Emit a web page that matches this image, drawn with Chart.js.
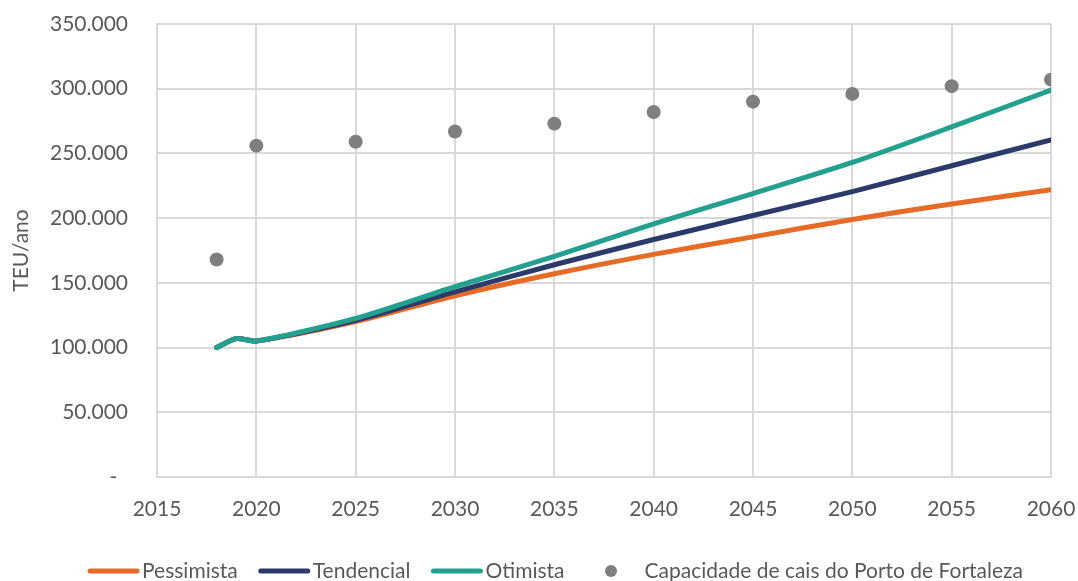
<!DOCTYPE html>
<html lang="pt-BR">
<head>
<meta charset="utf-8">
<title>Projeção de demanda - TEU/ano</title>
<script src="https://cdn.jsdelivr.net/npm/chart.js@4/dist/chart.umd.min.js"></script>
<style>
  html, body { margin: 0; padding: 0; background: #ffffff; }
  #caixa { width: 1078px; height: 581px; position: relative; }
</style>
</head>
<body>
<div id="caixa"><canvas id="graficoDemanda"></canvas></div>
<script>
// anos das projeções e valores em TEU/ano
const anos = [2018, 2019, 2020, 2025, 2030, 2035, 2040, 2045, 2050, 2055, 2060];
const pessimista = [100000, 107000, 105000, 120000, 140000, 157000, 172000, 185500, 199000, 211000, 222000];
const tendencial = [100000, 107000, 105000, 121000, 143000, 164000, 183500, 202000, 220500, 240500, 260500];
const otimista = [100000, 107000, 105000, 122500, 147000, 170500, 195500, 219000, 243000, 270500, 299000];

// capacidade de cais
const anosCapacidade = [2018, 2020, 2025, 2030, 2035, 2040, 2045, 2050, 2055, 2060];
const capacidade = [168000, 256000, 259000, 267000, 273000, 282000, 290000, 296000, 302000, 307000];

const eixoX = { min: 2015, max: 2060, passo: 5 };
const eixoY = { min: 0, max: 350000, passo: 50000 };

const corTexto = "#595959";
const corGrade = "#d9d9d9";
const fonte = "Lato";
const tamanhoFonte = 21;

const pontos = (xs, ys) => xs.map((x, i) => ({ x: x, y: ys[i] }));

// legenda desenhada embaixo do gráfico (traço + texto colados)
const legendaRodape = {
  id: "legendaRodape",
  afterDraw(chart) {
    const ctx = chart.ctx;
    const itens = chart.data.datasets;
    const amostra = 53;
    const espaco = 20;
    const yLeg = 571;

    ctx.save();
    ctx.font = tamanhoFonte + "px " + fonte;
    ctx.textBaseline = "middle";

    const larguras = itens.map(ds =>
      amostra + (ds.type === "scatter" ? 7 : 2) + ctx.measureText(ds.label).width
    );
    const total = larguras.reduce((a, b) => a + b, 0) + espaco * (itens.length - 1);
    let x = 555 - total / 2;

    itens.forEach((ds, i) => {
      if (ds.type === "scatter") {
        ctx.fillStyle = ds.backgroundColor;
        ctx.beginPath();
        ctx.arc(x + amostra / 2, yLeg, 6, 0, Math.PI * 2);
        ctx.fill();
        ctx.fillStyle = corTexto;
        ctx.fillText(ds.label, x + amostra + 7, yLeg);
      } else {
        ctx.strokeStyle = ds.borderColor;
        ctx.lineWidth = 5;
        ctx.lineCap = "round";
        ctx.beginPath();
        ctx.moveTo(x + 3, yLeg);
        ctx.lineTo(x + amostra - 3, yLeg);
        ctx.stroke();
        ctx.fillStyle = corTexto;
        ctx.fillText(ds.label, x + amostra + 2, yLeg);
      }
      x += larguras[i] + espaco;
    });
    ctx.restore();
  }
};

const linha = (rotulo, valores, cor, ordem) => ({
  type: "line",
  label: rotulo,
  data: pontos(anos, valores),
  borderColor: cor,
  backgroundColor: cor,
  borderWidth: 5,
  pointRadius: 0,
  tension: 0.25,
  borderCapStyle: "round",
  fill: false,
  order: ordem
});

new Chart(document.getElementById("graficoDemanda"), {
  data: {
    datasets: [
      linha("Pessimista", pessimista, "#e56b26", 3),
      linha("Tendencial", tendencial, "#2c3a6b", 2),
      linha("Otimista", otimista, "#23a08e", 1),
      {
        type: "scatter",
        label: "Capacidade de cais do Porto de Fortaleza",
        data: pontos(anosCapacidade, capacidade),
        backgroundColor: "#7f7f7f",
        borderWidth: 0,
        pointRadius: 7,
        order: 0
      }
    ]
  },
  options: {
    responsive: true,
    maintainAspectRatio: false,
    animation: false,
    layout: {
      autoPadding: false,
      padding: { top: 24, right: 27, bottom: 0, left: 0 }
    },
    plugins: {
      legend: { display: false },
      tooltip: { enabled: false }
    },
    scales: {
      x: {
        type: "linear",
        min: eixoX.min,
        max: eixoX.max,
        // altura fixa e sem folga lateral extra (o padding dos ticks entra aqui)
        afterFit: s => { s.height = 104; s.paddingLeft = 0; s.paddingRight = 0; },
        ticks: {
          stepSize: eixoX.passo,
          color: corTexto,
          padding: 20,
          font: { family: fonte, size: tamanhoFonte },
          callback: v => String(v)
        },
        grid: { color: corGrade, lineWidth: 2, drawTicks: false },
        border: { color: corGrade, width: 2 }
      },
      y: {
        min: eixoY.min,
        max: eixoY.max,
        afterFit: s => { s.width = 157; s.paddingTop = 0; s.paddingBottom = 0; },
        ticks: {
          stepSize: eixoY.passo,
          color: corTexto,
          padding: 29,
          font: { family: fonte, size: tamanhoFonte },
          callback: v => v === 0 ? "-  " : v.toLocaleString("pt-BR")
        },
        grid: { color: corGrade, lineWidth: 2, drawTicks: false },
        border: { color: corGrade, width: 2 },
        title: {
          display: true,
          text: "TEU/ano",
          color: corTexto,
          padding: { top: 9, bottom: 0 },
          font: { family: fonte, size: tamanhoFonte }
        }
      }
    }
  },
  plugins: [legendaRodape]
});
</script>
</body>
</html>
